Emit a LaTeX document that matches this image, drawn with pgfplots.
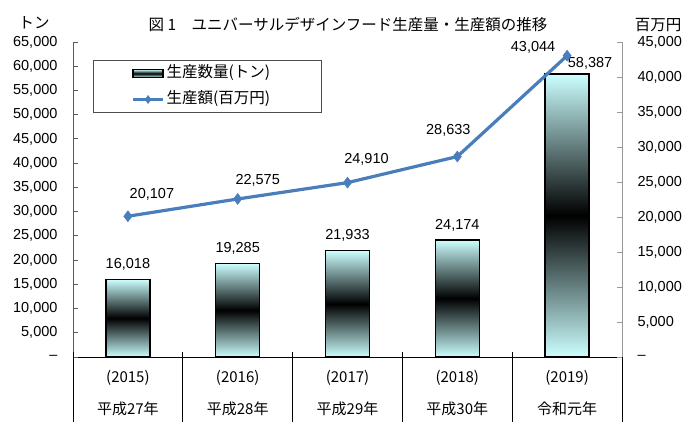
\documentclass[border=0pt]{standalone}
\usepackage{fontspec}
\setmainfont{Liberation Sans}
\newfontfamily\cjk{Noto Sans CJK JP}
\usepackage{pgfplots}
\pgfplotsset{compat=1.18}
\pgfplotsset{/pgf/number format/.cd, 1000 sep={,}, assume math mode=true}
\definecolor{lineblue}{RGB}{74,126,187}
\definecolor{barcyan}{RGB}{204,255,255}
\pgfplotsset{
  mylineleg/.style={legend image code/.code={\draw[mark repeat=2, mark phase=2, mark size=4pt, ##1] plot coordinates {(0pt,0pt) (15pt,0pt) (30pt,0pt)};}},
  mybarleg/.style={legend image code/.code={\draw[black, line width=1.2pt, top color=barcyan, bottom color=barcyan, middle color=black] (0pt,-4pt) rectangle (30pt,4pt);}},
  mybar/.style={ybar, bar shift=0pt, bar width=44pt, draw=black, line width=1.3pt,
    top color=barcyan, bottom color=barcyan, middle color=black,
    nodes near coords,
    every node near coord/.append style={font=\fontsize{14.5}{17}\selectfont, text=black, anchor=south, yshift=5pt}},
}

\begin{document}
\begin{tikzpicture}
\path[use as bounding box] (0pt,0pt) rectangle (700pt,436pt);

\begin{axis}[
  at={(73pt,79pt)}, anchor=south west,
  scale only axis, width=549pt, height=315pt,
  clip=false,
  xmin=-0.5, xmax=4.5,
  ymin=0, ymax=65000,
  axis y line*=left, axis x line*=bottom,
  y axis line style={draw=black!65, line width=0.9pt},
  x axis line style={draw=black, line width=0.9pt},
  xtick={0,1,2,3,4},
  major x tick style={draw=none},
  xticklabels={{(2015)\\[14pt]平成27年},{(2016)\\[14pt]平成28年},{(2017)\\[14pt]平成29年},{(2018)\\[14pt]平成30年},{(2019)\\[14pt]令和元年}},
  xticklabel style={font=\cjk\fontsize{15}{18}\selectfont, align=center, anchor=north, yshift=-10pt},
  ytick={5000,10000,...,65000},
  extra y ticks={0}, extra y tick labels={–},
  ytick style={draw=black!65, line width=0.9pt},
  major tick length=5pt,
  yticklabel style={font=\fontsize{14.5}{17}\selectfont, xshift=-12pt},
  scaled y ticks=false,
]
\addplot[mybar] coordinates {(0,16018)};
\addplot[mybar] coordinates {(1,19285)};
\addplot[mybar] coordinates {(2,21933)};
\addplot[mybar] coordinates {(3,24174)};
\addplot[mybar, every node near coord/.append style={xshift=23pt, yshift=-4pt}] coordinates {(4,58387)};
\pgfplotsinvokeforeach{-0.5,0.5,1.5,2.5,3.5,4.5}{
  \draw[black, line width=0.9pt] (axis cs:#1,0) ++(0pt,5pt) -- ++(0pt,-70pt);
}
\end{axis}

\begin{axis}[
  at={(73pt,79pt)}, anchor=south west,
  scale only axis, width=549pt, height=315pt,
  clip=false,
  xmin=-0.5, xmax=4.5,
  ymin=0, ymax=45000,
  axis y line*=right, axis x line=none,
  y axis line style={draw=black!40, line width=0.9pt},
  ytick={5000,10000,...,45000},
  extra y ticks={0}, extra y tick labels={–},
  ytick style={draw=black!40, line width=0.9pt},
  major tick length=5pt,
  yticklabel style={font=\fontsize{14.5}{17}\selectfont, xshift=12pt},
  scaled y ticks=false,
  legend style={at={(0.0364,0.9429)}, anchor=north west,
    draw=black!70, line width=1pt, inner xsep=38pt, inner ysep=4pt,
    row sep=8pt,
    font=\cjk\fontsize{15.5}{18}\selectfont,
    nodes={inner sep=2pt, text height=11pt, text depth=3pt}},
  legend cell align=left,
]
\addlegendimage{mybarleg}
\addlegendentry{\makebox[115pt][l]{生産数量(トン)}}
\addplot[color=lineblue, line width=3.2pt, mark=diamond*, mark size=5.5pt,
  mark options={fill=lineblue, draw=lineblue, line width=0.5pt},
  mylineleg,
  nodes near coords,
  visualization depends on={\thisrow{lx} \as \lxs},
  visualization depends on={\thisrow{ly} \as \lys},
  every node near coord/.append style={font=\fontsize{14.5}{17}\selectfont, text=black, anchor=center, xshift=\lxs, yshift=\lys},
] table {
x y lx ly
0 20107 24 22
1 22575 20 19
2 24910 19 23
3 28633 -9 26
4 43044 -34 8
};
\addlegendentry{\makebox[115pt][l]{生産額(百万円)}}
\end{axis}

\node[font=\cjk\fontsize{15.5}{18}\selectfont] at (348pt,411pt) {図 1　ユニバーサルデザインフード生産量・生産額の推移};
\node[font=\cjk\fontsize{15.5}{18}\selectfont] at (34pt,413pt) {トン};
\node[font=\cjk\fontsize{15.5}{18}\selectfont] at (658pt,411pt) {百万円};
\end{tikzpicture}
\end{document}
